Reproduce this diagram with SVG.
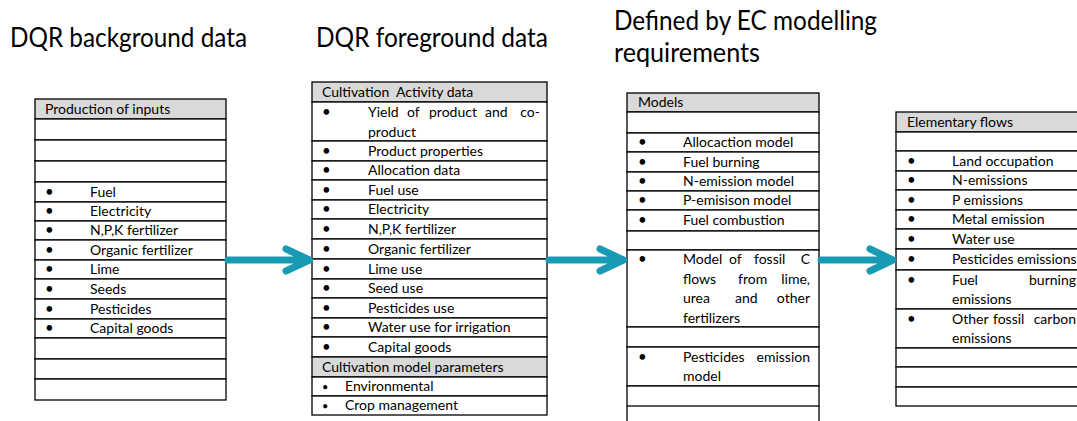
<svg xmlns="http://www.w3.org/2000/svg" width="1077" height="421" viewBox="0 0 1077 421">
<style>
.c{fill:#fff;stroke:#000;stroke-width:1.3}
.h{fill:#d9d9d9;stroke:#000;stroke-width:1.3}
.s{fill:none;stroke:#000;stroke-width:1.3}
text{font-family:Lato,"Liberation Sans",sans-serif;fill:#000}
.t{font-size:14px}
.b{font-size:15px}
.sb{font-size:11px}
.ti{font-size:26px}
.pre{white-space:pre}
.ar{fill:none;stroke:#1899b4;stroke-width:7;stroke-linecap:round;stroke-linejoin:round}
</style>
<rect width="1077" height="421" fill="#fff"/>

<g id="titles">
<text class="ti" x="10" y="47" textLength="237" lengthAdjust="spacingAndGlyphs">DQR background data</text>
<text class="ti" x="316" y="47" textLength="232" lengthAdjust="spacingAndGlyphs">DQR foreground data</text>
<text class="ti" x="614" y="30" textLength="263" lengthAdjust="spacingAndGlyphs">Defined by EC modelling</text>
<text class="ti" x="614" y="62" textLength="146" lengthAdjust="spacingAndGlyphs">requirements</text>
</g>

<g id="background">
<rect class="h" x="35" y="99" width="191" height="20"/>
<rect class="c" x="35" y="119" width="191" height="21"/>
<rect class="c" x="35" y="140" width="191" height="21"/>
<rect class="c" x="35" y="161" width="191" height="21"/>
<rect class="c" x="35" y="182" width="191" height="20"/>
<rect class="c" x="35" y="202" width="191" height="19"/>
<rect class="c" x="35" y="221" width="191" height="19"/>
<rect class="c" x="35" y="240" width="191" height="20"/>
<rect class="c" x="35" y="260" width="191" height="19"/>
<rect class="c" x="35" y="279" width="191" height="20"/>
<rect class="c" x="35" y="299" width="191" height="20"/>
<rect class="c" x="35" y="319" width="191" height="19"/>
<rect class="c" x="35" y="338" width="191" height="21"/>
<rect class="c" x="35" y="359" width="191" height="20"/>
<rect class="c" x="35" y="379" width="191" height="21"/>
<text class="t" x="45" y="114">Production of inputs</text>
<text class="b" x="45" y="197">•</text><text class="t" x="90" y="197">Fuel</text>
<text class="b" x="45" y="216">•</text><text class="t" x="90" y="216">Electricity</text>
<text class="b" x="45" y="235">•</text><text class="t" x="90" y="235">N,P,K fertilizer</text>
<text class="b" x="45" y="255">•</text><text class="t" x="90" y="255">Organic fertilizer</text>
<text class="b" x="45" y="274">•</text><text class="t" x="90" y="274">Lime</text>
<text class="b" x="45" y="294">•</text><text class="t" x="90" y="294">Seeds</text>
<text class="b" x="45" y="314">•</text><text class="t" x="90" y="314">Pesticides</text>
<text class="b" x="45" y="333">•</text><text class="t" x="90" y="333">Capital goods</text>
</g>

<g id="foreground">
<rect class="h" x="312" y="82" width="235" height="20"/>
<rect class="c" x="312" y="102" width="235" height="39"/>
<rect class="c" x="312" y="141" width="235" height="20"/>
<rect class="c" x="312" y="161" width="235" height="19"/>
<rect class="c" x="312" y="180" width="235" height="20"/>
<rect class="c" x="312" y="200" width="235" height="19"/>
<rect class="c" x="312" y="219" width="235" height="20"/>
<rect class="c" x="312" y="239" width="235" height="20"/>
<rect class="c" x="312" y="259" width="235" height="20"/>
<rect class="c" x="312" y="279" width="235" height="19"/>
<rect class="c" x="312" y="298" width="235" height="20"/>
<rect class="c" x="312" y="318" width="235" height="19"/>
<rect class="c" x="312" y="337" width="235" height="20"/>
<rect class="h" x="312" y="357" width="235" height="20"/>
<rect class="c" x="312" y="377" width="235" height="19"/>
<rect class="c" x="312" y="396" width="235" height="19"/>
<text class="t pre" x="322" y="97">Cultivation  Activity data</text>
<text class="b" x="322" y="117">•</text>
<text class="t" x="368" y="117">Yield</text><text class="t" x="407" y="117">of</text><text class="t" x="429" y="117">product</text><text class="t" x="485" y="117">and</text><text class="t" x="540" y="117" text-anchor="end">co-</text>
<text class="t" x="368" y="137">product</text>
<text class="b" x="322" y="156">•</text><text class="t" x="368" y="156">Product properties</text>
<text class="b" x="322" y="175">•</text><text class="t" x="368" y="175">Allocation data</text>
<text class="b" x="322" y="195">•</text><text class="t" x="368" y="195">Fuel use</text>
<text class="b" x="322" y="214">•</text><text class="t" x="368" y="214">Electricity</text>
<text class="b" x="322" y="234">•</text><text class="t" x="368" y="234">N,P,K fertilizer</text>
<text class="b" x="322" y="254">•</text><text class="t" x="368" y="254">Organic fertilizer</text>
<text class="b" x="322" y="274">•</text><text class="t" x="368" y="274">Lime use</text>
<text class="b" x="322" y="293">•</text><text class="t" x="368" y="293">Seed use</text>
<text class="b" x="322" y="313">•</text><text class="t" x="368" y="313">Pesticides use</text>
<text class="b" x="322" y="332">•</text><text class="t" x="368" y="332">Water use for irrigation</text>
<text class="b" x="322" y="352">•</text><text class="t" x="368" y="352">Capital goods</text>
<text class="t" x="322" y="372">Cultivation model parameters</text>
<text class="sb" x="322" y="391">•</text><text class="t" x="345" y="391">Environmental</text>
<text class="sb" x="322" y="410">•</text><text class="t" x="345" y="410">Crop management</text>
</g>

<g id="models">
<rect class="h" x="627" y="93" width="192" height="19"/>
<rect class="c" x="627" y="112" width="192" height="21"/>
<rect class="c" x="627" y="133" width="192" height="19"/>
<rect class="c" x="627" y="152" width="192" height="20"/>
<rect class="c" x="627" y="172" width="192" height="19"/>
<rect class="c" x="627" y="191" width="192" height="19"/>
<rect class="c" x="627" y="210" width="192" height="21"/>
<rect class="c" x="627" y="231" width="192" height="19"/>
<rect class="c" x="627" y="250" width="192" height="77"/>
<rect class="c" x="627" y="327" width="192" height="20"/>
<rect class="c" x="627" y="347" width="192" height="39"/>
<rect class="c" x="627" y="386" width="192" height="20"/>
<path class="s" d="M627,406 V425 M819,406 V425"/>
<text class="t" x="638" y="107">Models</text>
<text class="b" x="638" y="147">•</text><text class="t" x="683" y="147">Allocaction model</text>
<text class="b" x="638" y="167">•</text><text class="t" x="683" y="167">Fuel burning</text>
<text class="b" x="638" y="186">•</text><text class="t" x="683" y="186">N-emission model</text>
<text class="b" x="638" y="205">•</text><text class="t" x="683" y="205">P-emisison model</text>
<text class="b" x="638" y="225">•</text><text class="t" x="683" y="225">Fuel combustion</text>
<text class="b" x="638" y="264">•</text>
<text class="t" x="683" y="264">Model</text><text class="t" x="729" y="264">of</text><text class="t" x="754" y="264">fossil</text><text class="t" x="810" y="264" text-anchor="end">C</text>
<text class="t" x="683" y="284">flows</text><text class="t" x="738" y="284">from</text><text class="t" x="810" y="284" text-anchor="end">lime,</text>
<text class="t" x="683" y="303">urea</text><text class="t" x="735" y="303">and</text><text class="t" x="810" y="303" text-anchor="end">other</text>
<text class="t" x="683" y="323">fertilizers</text>
<text class="b" x="638" y="362">•</text>
<text class="t" x="683" y="362">Pesticides</text><text class="t" x="810" y="362" text-anchor="end">emission</text>
<text class="t" x="683" y="381">model</text>
</g>

<g id="elementary">
<rect class="h" x="896" y="112" width="200" height="20"/>
<rect class="c" x="896" y="132" width="200" height="19"/>
<rect class="c" x="896" y="151" width="200" height="20"/>
<rect class="c" x="896" y="171" width="200" height="19"/>
<rect class="c" x="896" y="190" width="200" height="20"/>
<rect class="c" x="896" y="210" width="200" height="19"/>
<rect class="c" x="896" y="229" width="200" height="20"/>
<rect class="c" x="896" y="249" width="200" height="21"/>
<rect class="c" x="896" y="270" width="200" height="39"/>
<rect class="c" x="896" y="309" width="200" height="39"/>
<rect class="c" x="896" y="348" width="200" height="19"/>
<rect class="c" x="896" y="367" width="200" height="20"/>
<rect class="c" x="896" y="387" width="200" height="19"/>
<text class="t" x="907" y="127">Elementary flows</text>
<text class="b" x="907" y="166">•</text><text class="t" x="952" y="166">Land occupation</text>
<text class="b" x="907" y="185">•</text><text class="t" x="952" y="185">N-emissions</text>
<text class="b" x="907" y="205">•</text><text class="t" x="952" y="205">P emissions</text>
<text class="b" x="907" y="224">•</text><text class="t" x="952" y="224">Metal emission</text>
<text class="b" x="907" y="244">•</text><text class="t" x="952" y="244">Water use</text>
<text class="b" x="907" y="264">•</text><text class="t" x="952" y="264">Pesticides emissions</text>
<text class="b" x="907" y="285">•</text>
<text class="t" x="952" y="285">Fuel</text><text class="t" x="1076" y="285" text-anchor="end">burning</text>
<text class="t" x="952" y="304">emissions</text>
<text class="b" x="907" y="324">•</text>
<text class="t" x="952" y="324">Other</text><text class="t" x="993" y="324">fossil</text><text class="t" x="1076" y="324" text-anchor="end">carbon</text>
<text class="t" x="952" y="343">emissions</text>
</g>

<g id="connectors">
<path class="ar" d="M228,260 H307 M286,249 L309.5,260 L286,271"/>
<path class="ar" d="M549,260 H620 M600,249 L623.5,260 L600,271"/>
<path class="ar" d="M821,260 H890 M870,249 L893,260 L870,271"/>
</g>
</svg>
